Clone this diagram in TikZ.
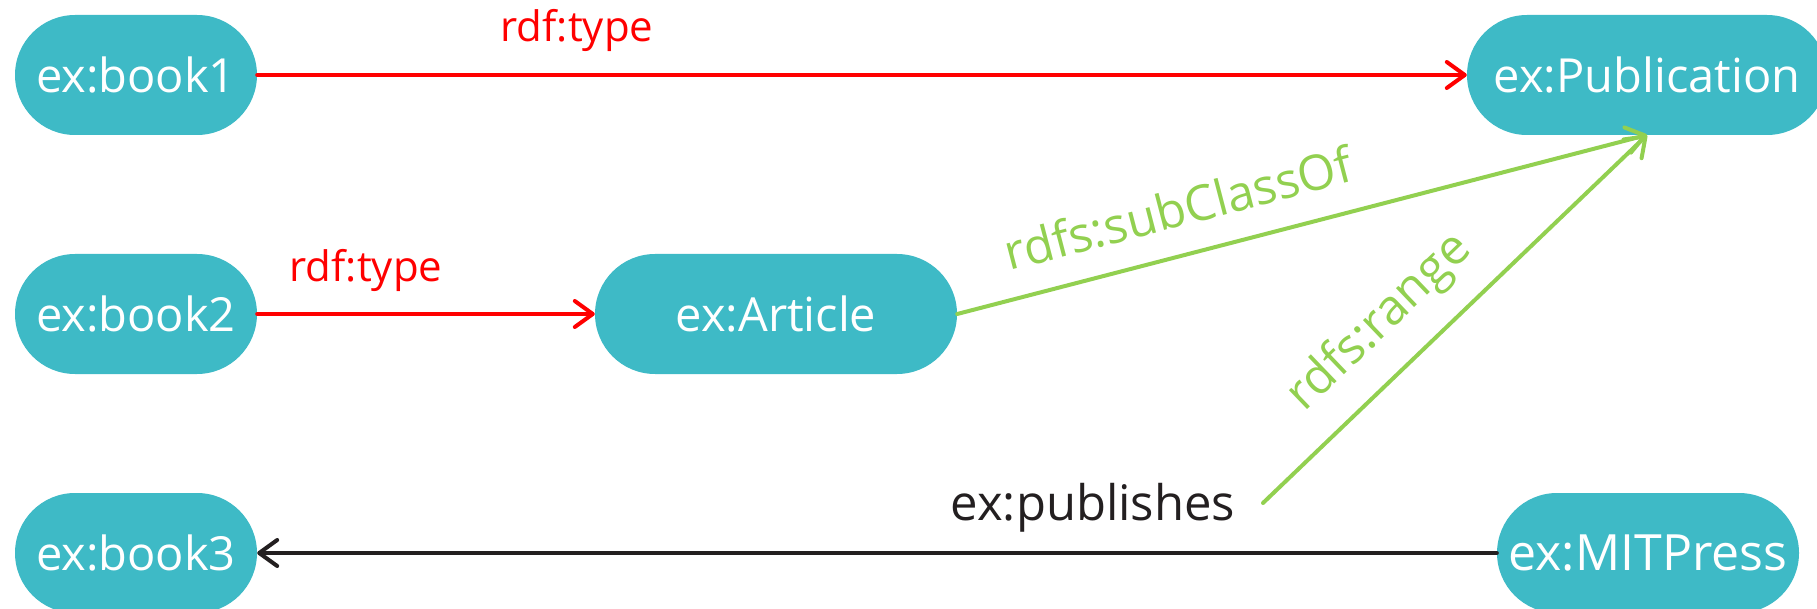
\documentclass[tikz,border=0pt]{standalone}
\usepackage{fontspec}
\setmainfont{Open Sans}
\usetikzlibrary{arrows.meta}
\definecolor{teal}{RGB}{62,186,198}
\definecolor{lgreen}{RGB}{146,208,80}
\definecolor{dblack}{RGB}{35,31,32}
\definecolor{pred}{RGB}{255,0,0}
\tikzset{
  res/.style={fill=teal, text=white, rounded corners=60pt, minimum height=120pt,
    inner sep=0pt, font=\fontsize{47}{47}\selectfont},
  lbl/.style={font=\fontsize{42}{42}\selectfont, inner sep=0pt},
  biglbl/.style={font=\fontsize{49}{49}\selectfont, inner sep=0pt},
  conn/.style={line width=4pt, line cap=round,
    -{Straight Barb[length=18pt,width=26pt,line width=4pt,round]}},
}
\begin{document}
\begin{tikzpicture}[x=1pt,y=-1pt]
\useasboundingbox (0,0) rectangle (1817,609);
\node[res, minimum width=242pt] (b1) at (136,75) {ex:book1};
\node[res, minimum width=242pt] (b2) at (136,314) {ex:book2};
\node[res, minimum width=242pt] (b3) at (136,553) {ex:book3};
\node[res, minimum width=362pt] (art) at (776,314) {ex:Article};
\node[res, minimum width=360pt] (pub) at (1647,75) {ex:Publication};
\node[res, minimum width=302pt, font=\fontsize{50}{50}\selectfont] (mit) at (1648,553) {ex:MITPress};
\coordinate (ptip) at (1647,135);
\coordinate (rs) at (1263,503);

\draw[conn, pred] (b1) -- (pub);
\node[lbl, text=pred] (l1) at (577,30) {rdf:type};
\draw[conn, pred] (b2) -- (art);
\node[lbl, text=pred] (l2) at (366,270) {rdf:type};
\draw[conn, lgreen] (art.east) -- (ptip);
\node[biglbl, text=lgreen, rotate=14.6] (l3) at (1178,208) {rdfs:subClassOf};
\draw[conn, lgreen] (rs) -- (ptip);
\node[biglbl, text=lgreen, rotate=43.8] (l4) at (1380,323) {rdfs:range};
\draw[conn, dblack] (mit) -- (b3);
\node[biglbl, text=dblack] (l5) at (1093,508) {ex:publishes};
\end{tikzpicture}
\end{document}
